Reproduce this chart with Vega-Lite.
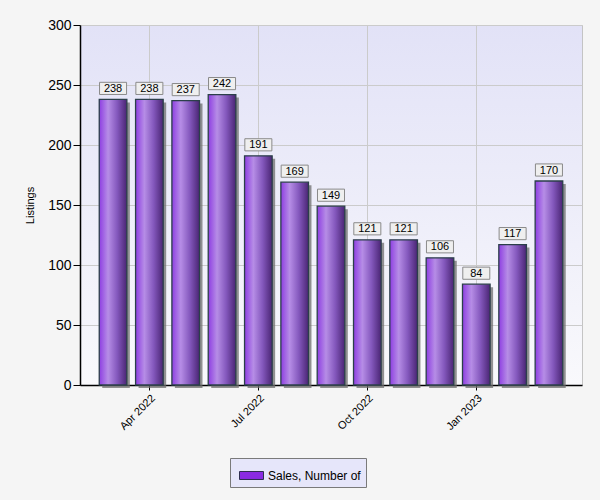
{
  "$schema": "https://vega.github.io/schema/vega-lite/v6.json",
  "width": 502,
  "height": 360,
  "autosize": {"type": "none"},
  "padding": {"left": 80, "top": 25, "right": 18, "bottom": 115},
  "background": "#f5f5f5",
  "config": {
    "view": {
      "fill": {"gradient": "linear", "x1": 0, "y1": 0, "x2": 0, "y2": 1,
        "stops": [{"offset": 0, "color": "#e2e2f7"}, {"offset": 1, "color": "#f9f9fc"}]},
      "stroke": "#c4c4c4",
      "strokeWidth": 1
    },
    "axis": {
      "labelFont": "Liberation Sans",
      "titleFont": "Liberation Sans",
      "labelColor": "#000000",
      "titleColor": "#000000",
      "domainColor": "#000000",
      "tickColor": "#000000",
      "gridColor": "#cbcbcb",
      "gridWidth": 1
    }
  },
  "data": {
    "values": [
      {"month": "Mar 2022", "sales": 238, "series": "Sales, Number of"},
      {"month": "Apr 2022", "sales": 238, "series": "Sales, Number of"},
      {"month": "May 2022", "sales": 237, "series": "Sales, Number of"},
      {"month": "Jun 2022", "sales": 242, "series": "Sales, Number of"},
      {"month": "Jul 2022", "sales": 191, "series": "Sales, Number of"},
      {"month": "Aug 2022", "sales": 169, "series": "Sales, Number of"},
      {"month": "Sep 2022", "sales": 149, "series": "Sales, Number of"},
      {"month": "Oct 2022", "sales": 121, "series": "Sales, Number of"},
      {"month": "Nov 2022", "sales": 121, "series": "Sales, Number of"},
      {"month": "Dec 2022", "sales": 106, "series": "Sales, Number of"},
      {"month": "Jan 2023", "sales": 84, "series": "Sales, Number of"},
      {"month": "Feb 2023", "sales": 117, "series": "Sales, Number of"},
      {"month": "Mar 2023", "sales": 170, "series": "Sales, Number of"}
    ]
  },
  "encoding": {
    "x": {
      "field": "month", "type": "ordinal", "sort": null,
      "scale": {"paddingInner": 0.24, "paddingOuter": 0.53},
      "axis": {
        "title": null,
        "values": ["Apr 2022", "Jul 2022", "Oct 2022", "Jan 2023"],
        "labelAngle": -45,
        "labelFontSize": 11,
        "tickSize": 5,
        "grid": true,
        "bandPosition": 0.5,
        "domainWidth": 1.5
      }
    },
    "y": {
      "field": "sales", "type": "quantitative",
      "scale": {"domain": [0, 300], "nice": false},
      "axis": {
        "title": "Listings",
        "values": [0, 50, 100, 150, 200, 250, 300],
        "labelFontSize": 14,
        "tickSize": 7,
        "labelPadding": 2,
        "grid": true,
        "titleFontSize": 11,
        "titleFontWeight": "normal",
        "titleAngle": -90,
        "titleX": -50,
        "titleY": 180,
        "titleAlign": "center",
        "titleBaseline": "middle",
        "domainWidth": 1.5
      }
    }
  },
  "layer": [
    {
      "mark": {"type": "bar", "color": "#6e6e6e", "opacity": 0.75, "xOffset": 3, "yOffset": 3}
    },
    {
      "mark": {
        "type": "bar",
        "stroke": "#2b3f4a",
        "strokeWidth": 1.3,
        "color": {"gradient": "linear", "x1": 0, "y1": 0, "x2": 1, "y2": 0,
          "stops": [
            {"offset": 0, "color": "#8e3ee2"},
            {"offset": 0.32, "color": "#b68de6"},
            {"offset": 0.65, "color": "#8458bd"},
            {"offset": 1, "color": "#4a2574"}
          ]}
      }
    },
    {
      "mark": {
        "type": "point",
        "shape": "M-1,-0.45H1V0.45H-1Z",
        "size": 730,
        "filled": true,
        "fill": "#efefef",
        "stroke": "#8a8a8a",
        "strokeWidth": 1,
        "opacity": 1,
        "yOffset": -11
      }
    },
    {
      "mark": {"type": "text", "font": "Liberation Sans", "fontSize": 11, "color": "#000000", "baseline": "middle", "yOffset": -10.5},
      "encoding": {"text": {"field": "sales", "type": "quantitative"}}
    },
    {
      "mark": {"type": "point", "filled": true, "opacity": 0},
      "encoding": {
        "color": {
          "field": "series", "type": "nominal",
          "scale": {"range": ["#8a2be2"]},
          "legend": {
            "title": null,
            "orient": "none",
            "legendX": 150,
            "legendY": 433,
            "direction": "horizontal",
            "fillColor": "#e6e6fa",
            "strokeColor": "#7a7a7a",
            "padding": {"expr": "5"},
            "symbolOffset": 4,
            "symbolType": "M-1,-0.333H1V0.333H-1Z",
            "symbolSize": 576,
            "symbolOpacity": 1,
            "symbolStrokeColor": "#2f2f4f",
            "symbolStrokeWidth": 1,
            "labelFont": "Liberation Sans",
            "labelFontSize": 12,
            "labelColor": "#000000",
            "labelOffset": 4,
            "labelLimit": 200
          }
        }
      }
    }
  ]
}
